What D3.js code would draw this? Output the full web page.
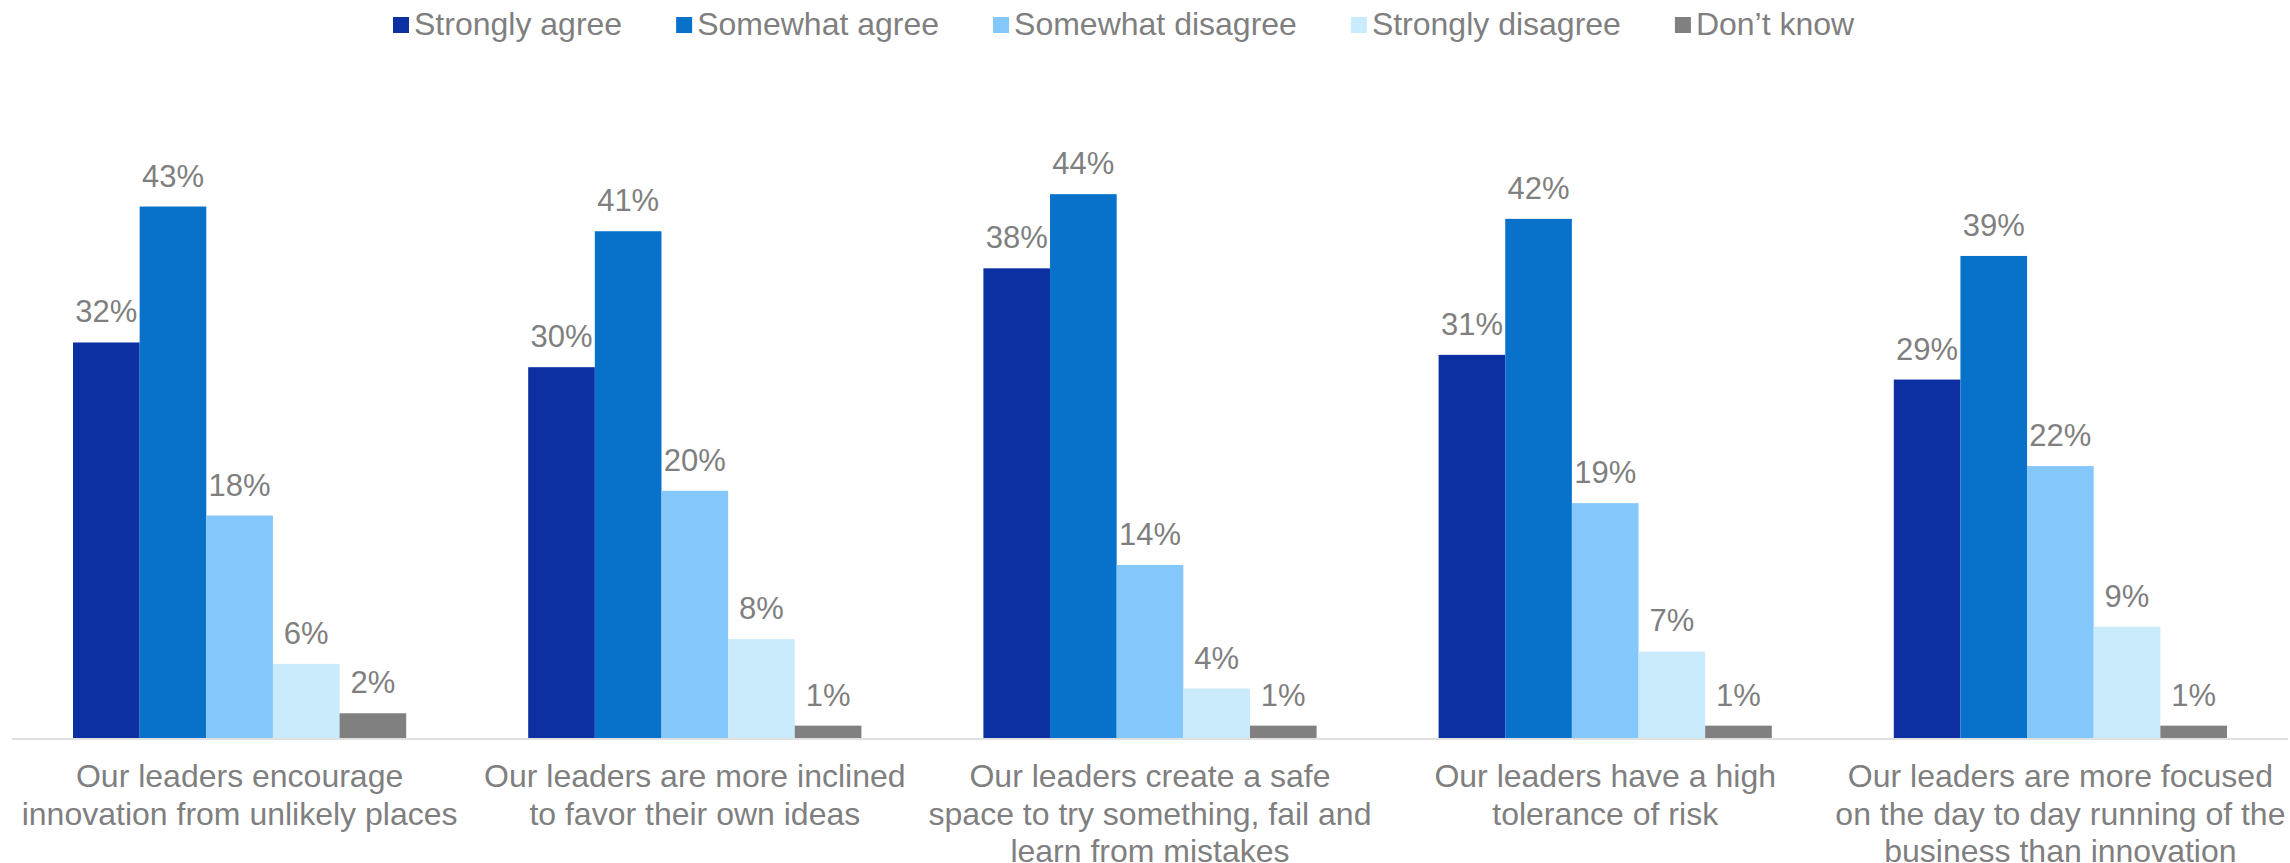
<!DOCTYPE html>
<html>
<head>
<meta charset="utf-8">
<script src="https://cdn.jsdelivr.net/npm/d3@7"></script>
<style>
  html, body { margin: 0; padding: 0; background: #ffffff; }
  svg { display: block; }
  text { font-family: Arial, "Liberation Sans", sans-serif; fill: #7f7f7f; }
</style>
</head>
<body>
<svg id="chart" width="2290" height="863"></svg>
<script>
// Survey statements (x-axis categories), each broken into display lines
const categories = [
  ["Our leaders encourage", "innovation from unlikely places"],
  ["Our leaders are more inclined", "to favor their own ideas"],
  ["Our leaders create a safe", "space to try something, fail and", "learn from mistakes"],
  ["Our leaders have a high", "tolerance of risk"],
  ["Our leaders are more focused", "on the day to day running of the", "business than innovation"]
];

// Response options (series)
const seriesNames = ["Strongly agree", "Somewhat agree", "Somewhat disagree", "Strongly disagree", "Don\u2019t know"];
const seriesColors = ["#0c2fa1", "#0872cb", "#83c7fb", "#c9ebfc", "#808080"];

// Percent of respondents, one array per series, in category order
const stronglyAgree    = [32, 30, 38, 31, 29];
const somewhatAgree    = [43, 41, 44, 42, 39];
const somewhatDisagree = [18, 20, 14, 19, 22];
const stronglyDisagree = [6, 8, 4, 7, 9];
const dontKnow         = [2, 1, 1, 1, 1];
const seriesValues = [stronglyAgree, somewhatAgree, somewhatDisagree, stronglyDisagree, dontKnow];

const svg = d3.select("#chart");
const baseline = 738;

const x0 = d3.scaleBand()
  .domain(d3.range(categories.length))
  .range([12, 2288])
  .paddingInner(0.268)
  .paddingOuter(0.134);

const x1 = d3.scaleBand()
  .domain(d3.range(seriesNames.length))
  .range([0, x0.bandwidth()])
  .padding(0);

const y = d3.scaleLinear()
  .domain([0, 50])
  .range([baseline, baseline - 618]);

// Bars and value labels
const groups = svg.append("g").selectAll("g")
  .data(categories)
  .join("g")
  .attr("transform", (d, i) => `translate(${x0(i)},0)`);

groups.selectAll("rect")
  .data((d, i) => seriesValues.map((vals, s) => ({ s, v: vals[i] })))
  .join("rect")
  .attr("x", d => x1(d.s))
  .attr("y", d => y(d.v))
  .attr("width", x1.bandwidth())
  .attr("height", d => baseline - y(d.v))
  .attr("fill", d => seriesColors[d.s]);

groups.selectAll("text.value")
  .data((d, i) => seriesValues.map((vals, s) => ({ s, v: vals[i] })))
  .join("text")
  .attr("class", "value")
  .attr("x", d => x1(d.s) + x1.bandwidth() / 2)
  .attr("y", d => y(d.v) - 20)
  .attr("text-anchor", "middle")
  .style("font-size", "31px")
  .text(d => d.v + "%");

// Category axis line
svg.append("line")
  .attr("x1", x0.range()[0])
  .attr("x2", x0.range()[1])
  .attr("y1", baseline + 1)
  .attr("y2", baseline + 1)
  .attr("stroke", "#e0e0e0")
  .attr("stroke-width", 2);

// Category labels, centered under each group
const catLabels = svg.append("g").selectAll("text")
  .data(categories)
  .join("text")
  .attr("x", (d, i) => x0(i) + x0.bandwidth() / 2)
  .attr("y", 787)
  .attr("text-anchor", "middle")
  .style("font-size", "32px");

catLabels.selectAll("tspan")
  .data(d => d)
  .join("tspan")
  .attr("x", function () { return this.parentNode.getAttribute("x"); })
  .attr("dy", (d, i) => i === 0 ? 0 : 37.5)
  .text(d => d);

// Legend across the top
const legend = svg.append("g");
let lx = 393;
seriesNames.forEach((name, s) => {
  legend.append("rect")
    .attr("x", lx)
    .attr("y", 17)
    .attr("width", 16)
    .attr("height", 16)
    .attr("fill", seriesColors[s]);
  const t = legend.append("text")
    .attr("x", lx + 21)
    .attr("y", 35)
    .style("font-size", "32px")
    .text(name);
  lx += 21 + t.node().getComputedTextLength() + 54;
});
</script>
</body>
</html>
